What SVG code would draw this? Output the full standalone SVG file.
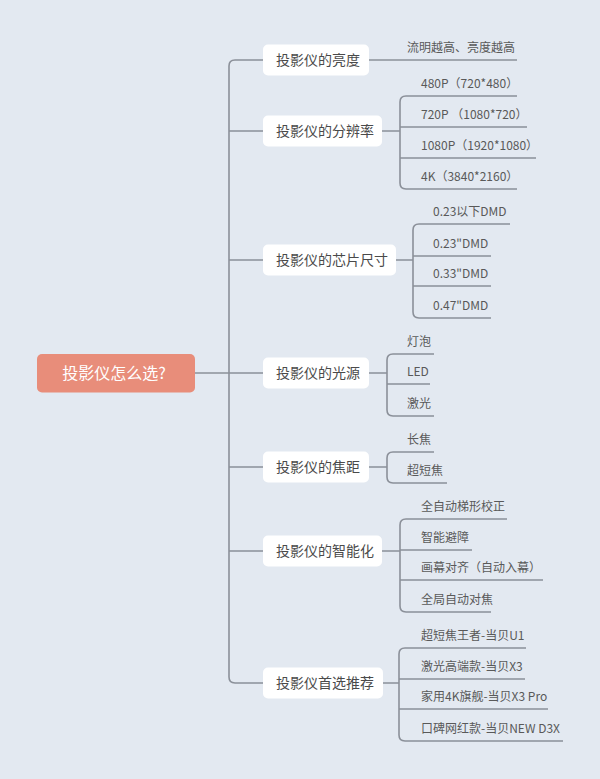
<svg xmlns="http://www.w3.org/2000/svg" width="600" height="779" viewBox="0 0 600 779">
<style>
.l1 rect{fill:#ffffff}
.l1 text{font-family:"Noto Sans CJK SC","Liberation Sans",sans-serif;font-size:14px;fill:#4a4a4a}
.c text{font-family:"Noto Sans CJK SC","Liberation Sans",sans-serif;font-size:12px;fill:#595959}
#connectors path{fill:none;stroke:#8b9099;stroke-width:1.6}
</style>
<rect width="600" height="779" fill="#e3e9f1"/>
<g id="connectors">
<path d="M195,373 H229"/>
<path d="M263,60 H235 Q229,60 229,66 V677 Q229,683 235,683 H263"/>
<path d="M229,131 H263 M229,260 H263 M229,373 H263 M229,467 H263 M229,551 H263"/>
<path d="M369,60 H517"/>
<path d="M382,131 H400 M517,96 H406 Q400,96 400,102 V183 Q400,189 406,189 H517 M400,127 H527 M400,158 H536"/>
<path d="M396,260 H413 M510,224 H419 Q413,224 413,230 V312 Q413,318 419,318 H491 M413,256 H491 M413,286 H491"/>
<path d="M369,373 H387 M434,354 H393 Q387,354 387,360 V410 Q387,416 393,416 H434 M387,384 H430"/>
<path d="M369,467 H387 M434,452 H393 Q387,452 387,458 V477 Q387,483 393,483 H447"/>
<path d="M382,551 H400 M507,519 H406 Q400,519 400,525 V606 Q400,612 406,612 H491 M400,550 H472 M400,580 H543"/>
<path d="M383,683 H399 M526,648 H405 Q399,648 399,654 V735 Q399,741 405,741 H563 M399,679 H525 M399,709 H548"/>
</g>
<g id="root">
<rect x="37" y="354" width="158" height="38.5" rx="5" fill="#e88d7a"/>
<text x="114" y="379" text-anchor="middle" font-family="Noto Sans CJK SC, Liberation Sans, sans-serif" font-size="16" fill="#ffffff">投影仪怎么选?</text>
</g>
<g id="n-brightness" class="l1"><rect x="263" y="44.5" width="106" height="31" rx="5"/><text x="276" y="65">投影仪的亮度</text></g>
<g id="n-resolution" class="l1"><rect x="263" y="115.5" width="119" height="31" rx="5"/><text x="276" y="136">投影仪的分辨率</text></g>
<g id="n-chip" class="l1"><rect x="263" y="244.5" width="133" height="31" rx="5"/><text x="276" y="265">投影仪的芯片尺寸</text></g>
<g id="n-light" class="l1"><rect x="263" y="357.5" width="106" height="31" rx="5"/><text x="276" y="378">投影仪的光源</text></g>
<g id="n-focus" class="l1"><rect x="263" y="451.5" width="106" height="31" rx="5"/><text x="276" y="472">投影仪的焦距</text></g>
<g id="n-smart" class="l1"><rect x="263" y="535.5" width="119" height="31" rx="5"/><text x="276" y="556">投影仪的智能化</text></g>
<g id="n-recommend" class="l1"><rect x="263" y="667.5" width="120" height="31" rx="5"/><text x="276" y="688">投影仪首选推荐</text></g>
<g id="c-brightness" class="c"><text x="407" y="52">流明越高、亮度越高</text></g>
<g id="c-resolution" class="c">
<text x="421" y="88">480P（720*480）</text>
<text x="421" y="119">720P （1080*720）</text>
<text x="421" y="150">1080P（1920*1080）</text>
<text x="421" y="181">4K（3840*2160）</text>
</g>
<g id="c-chip" class="c">
<text x="433" y="216">0.23以下DMD</text>
<text x="433" y="248">0.23"DMD</text>
<text x="433" y="278">0.33"DMD</text>
<text x="433" y="310">0.47"DMD</text>
</g>
<g id="c-light" class="c">
<text x="407" y="346">灯泡</text>
<text x="407" y="376">LED</text>
<text x="407" y="408">激光</text>
</g>
<g id="c-focus" class="c">
<text x="407" y="444">长焦</text>
<text x="407" y="475">超短焦</text>
</g>
<g id="c-smart" class="c">
<text x="421" y="511">全自动梯形校正</text>
<text x="421" y="542">智能避障</text>
<text x="421" y="572">画幕对齐（自动入幕）</text>
<text x="421" y="604">全局自动对焦</text>
</g>
<g id="c-recommend" class="c">
<text x="421" y="640">超短焦王者-当贝U1</text>
<text x="421" y="671">激光高端款-当贝X3</text>
<text x="421" y="701">家用4K旗舰-当贝X3 Pro</text>
<text x="421" y="733">口碑网红款-当贝NEW D3X</text>
</g>
</svg>
